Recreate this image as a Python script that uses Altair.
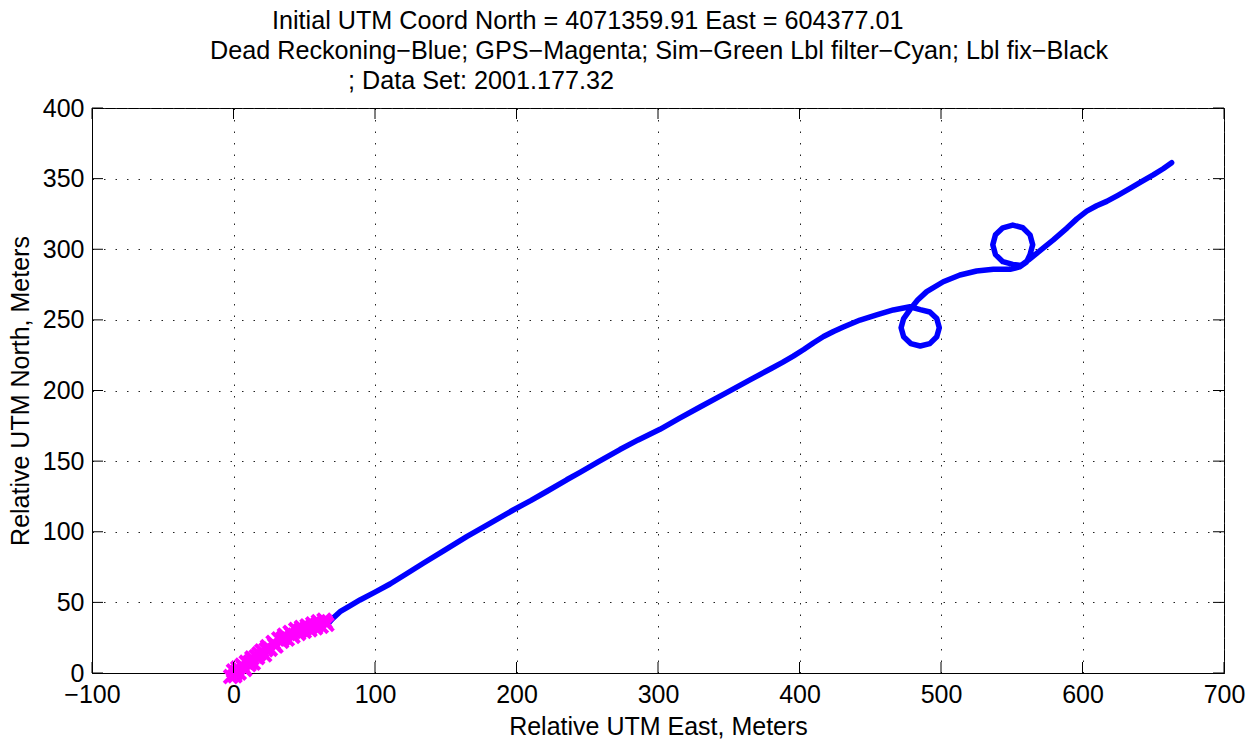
import altair as alt
import pandas as pd

# ---------------- data ----------------
TITLE_LINES = [
    "Initial UTM Coord North = 4071359.91 East = 604377.01",
    "Dead Reckoning\u2212Blue; GPS\u2212Magenta; Sim\u2212Green Lbl filter\u2212Cyan; Lbl fix\u2212Black",
    "; Data Set: 2001.177.32",
]
X_TITLE = "Relative UTM East, Meters"
Y_TITLE = "Relative UTM North, Meters"
X_TICKS = [-100, 0, 100, 200, 300, 400, 500, 600, 700]
Y_TICKS = [0, 50, 100, 150, 200, 250, 300, 350, 400]

# Dead reckoning track (blue)
DR_EAST = [67, 70, 75.3, 82, 89.4, 100, 110.6, 122, 134.1, 149, 164.8, 180, 197.7,
           210, 221.3, 235.5, 244.9, 258, 273.1, 286, 301.4, 315, 330, 348.5, 365,
           380, 388, 395.6, 403, 410, 417, 424, 431, 442.8, 454.5, 466.3, 478.1,
           485.3, 492.1, 497, 498.8, 497, 492.1, 485.3, 478.6, 473.6, 471.8, 473.6,
           478.1, 483.5, 489.9, 501.6, 513.4, 525.2, 537, 548.8, 555.5, 560.5,
           562.9, 564.8, 562.9, 557.8, 550.7, 543.7, 538.5, 536.6, 538.5, 543.7,
           550.7, 556.5, 562, 570, 579.4, 589, 596, 603, 610, 617.1, 625, 633.6, 642,
           650, 657, 663]
DR_NORTH = [35.2, 38.5, 43.4, 47.3, 51.7, 57.3, 63, 70.1, 77.7, 86.8, 96.5, 105.2, 115.4,
            122, 128.5, 136.8, 142, 149.6, 158.2, 165, 172.5, 180.2, 188.5, 198.5, 207.5,
            215.6, 219.9, 224.3, 229, 233.8, 238.2, 241.8, 245, 249.9, 253.5, 257, 259.3,
            257.3, 255.6, 250.9, 244.4, 238, 233.2, 231.5, 233.2, 238, 244.4, 250.9,
            257.3, 264, 270, 277, 281.8, 284.6, 285.8, 285.8, 287.5, 291,
            296.2, 303.2, 310.2, 315.2, 317.1, 315.2, 310.2, 303.2, 296.2, 291.2,
            289.3, 288.5, 292.5, 299, 306.6, 315, 321.5, 327, 330.8, 333.9, 338.2, 343.1, 348,
            352.6, 357, 361.3]

# GPS fixes (magenta)
GPS_EAST = [-2, 0, 1, 3, 4, 6, 8, 9, 11, 13, 14, 16, 18, 20, 22, 24, 26, 28, 30, 32, 34,
            36, 38, 40, 42, 44, 46, 48, 50, 52, 54, 56, 58, 60, 62, 64, 66,
            2, 7, 12, 17, 23, 29, 35, 41, 47, 53, 59, 65]
GPS_NORTH = [-2.5, 1.5, -2, 3.5, 0, 5.5, 2.5, 7.6, 6, 10.6, 7, 11.6, 13.6, 15.6, 12.8,
             18.7, 16.8, 21.7, 19, 24.2, 22.4, 26.8, 24, 28.8, 26, 30.8, 28, 32.3,
             29.5, 33.3, 30.5, 34.8, 32, 36.4, 33, 37.4, 34.4,
             0.5, 4, 8, 11, 16.5, 20, 24.5, 27.5, 30, 32.3, 34, 36]

# ---------------- chart ----------------
W, H = 1132, 565
FONT = "Liberation Sans"
FS = 25
TFS = 25.2
TICK = 11

dr_df = pd.DataFrame({"east": DR_EAST, "north": DR_NORTH, "idx": list(range(len(DR_EAST)))})
gps_df = pd.DataFrame({"east": GPS_EAST, "north": GPS_NORTH})
xt_df = pd.DataFrame({"east": X_TICKS})
yt_df = pd.DataFrame({"north": Y_TICKS})

xs = alt.Scale(domain=[-100, 700], nice=False, zero=False)
ys = alt.Scale(domain=[0, 400], nice=False, zero=False)
x_axis = alt.Axis(values=X_TICKS, title=X_TITLE, grid=True, labelFlush=False,
                  labelPadding=9, titlePadding=7)
y_axis = alt.Axis(values=Y_TICKS, title=Y_TITLE, grid=True, labelFlush=False,
                  labelPadding=8, titlePadding=9)

X = alt.X("east:Q", scale=xs, axis=x_axis)
Y = alt.Y("north:Q", scale=ys, axis=y_axis)

line = alt.Chart(dr_df).mark_line(
    color="#0000ff", strokeWidth=5.5, strokeCap="round", strokeJoin="round"
).encode(x=X, y=Y, order="idx:Q")

gps = alt.Chart(gps_df).mark_point(
    shape="M-1,-1L1,1M-1,1L1,-1", filled=False, color="#ff00ff",
    strokeWidth=4, size=170, opacity=1
).encode(x=X, y=Y)

tick_style = dict(color="black", strokeWidth=1)
xt_bottom = alt.Chart(xt_df).mark_rule(**tick_style).encode(
    x=X, y=alt.value(H), y2=alt.value(H - TICK))
xt_top = alt.Chart(xt_df).mark_rule(**tick_style).encode(
    x=X, y=alt.value(0), y2=alt.value(TICK))
yt_left = alt.Chart(yt_df).mark_rule(**tick_style).encode(
    y=Y, x=alt.value(0), x2=alt.value(TICK))
yt_right = alt.Chart(yt_df).mark_rule(**tick_style).encode(
    y=Y, x=alt.value(W), x2=alt.value(W - TICK))

title_layers = []
for txt, tx, ty in zip(TITLE_LINES, [180, 118, 256], [-79, -49, -19]):
    title_layers.append(
        alt.Chart(pd.DataFrame({"txt": [txt]})).mark_text(
            align="left", baseline="alphabetic", font=FONT, fontSize=TFS, color="black"
        ).encode(x=alt.value(tx), y=alt.value(ty), text="txt:N")
    )

chart = alt.layer(
    line, gps, xt_bottom, xt_top, yt_left, yt_right, *title_layers
).properties(
    width=W, height=H,
    autosize=alt.AutoSizeParams(type="none"),
    padding={"left": 92, "top": 108, "right": 33, "bottom": 70},
    background="white",
).configure_view(
    stroke="black", strokeWidth=1
).configure_axis(
    labelFont=FONT, labelFontSize=FS, labelColor="black",
    titleFont=FONT, titleFontSize=FS, titleFontWeight="normal", titleColor="black",
    domainColor="black", domainWidth=1, tickSize=0,
    gridColor="#222222", gridDash=[1.5, 10], gridWidth=1, gridOpacity=1,
)

chart.save("out.html", embed_options={"renderer": "svg", "actions": False})
